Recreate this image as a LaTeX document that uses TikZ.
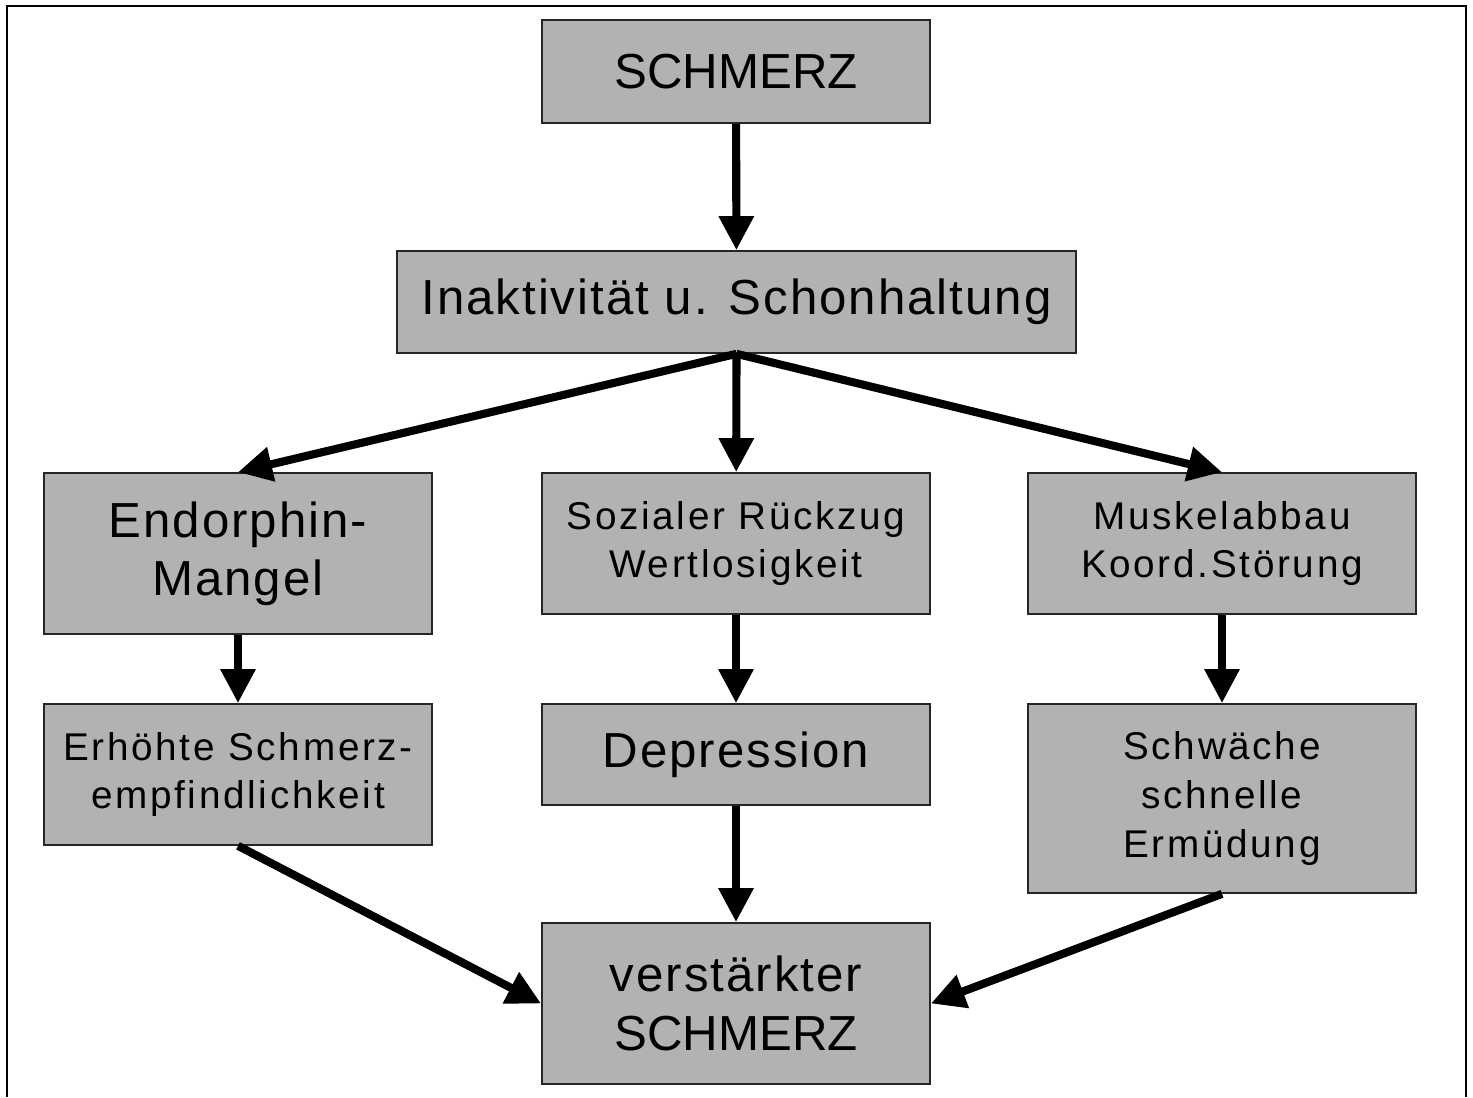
\documentclass[tikz,border=0pt]{standalone}
\usepackage{fontspec}
\setmainfont{Liberation Sans}
\newfontfamily\widefont[LetterSpace=4]{Liberation Sans}
\newfontfamily\widerfont[LetterSpace=7]{Liberation Sans}
\usetikzlibrary{arrows.meta}

\begin{document}
\begin{tikzpicture}[
  x=0.01cm, y=-0.01cm,
  box/.style={rectangle, draw=black!85, line width=0.45pt, fill=black!30,
              inner sep=0pt, align=center, minimum width=3.88cm},
  big/.style={box, font=\widefont\fontsize{14}{16.6}\selectfont},
  small/.style={box, font=\widerfont\fontsize{11}{13.8}\selectfont},
  arr/.style={line width=2.3pt, -{Triangle[length=9.7pt, width=9.5pt]}}
]
\useasboundingbox (0,0) rectangle (1473,1097);
\draw[black, line width=0.6pt] (7,1097) -- (7,6) -- (1466,6) -- (1466,1097);

% top
\node[box, font=\fontsize{14}{16.6}\selectfont, minimum height=1.03cm] (pain) at (736,71.5) {SCHMERZ};
\node[big, minimum width=6.79cm, minimum height=1.02cm] (inact) at (736.5,302) {Inaktivität u. Schonhaltung};

% three columns
\node[big, minimum height=1.61cm]   (endo)   at (238,553.5)  {Endorphin-\\Mangel};
\node[small, minimum height=1.41cm] (social) at (736,543.5)  {Sozialer Rückzug\\Wertlosigkeit};
\node[small, minimum height=1.41cm] (muscle) at (1222,543.5) {Muskelabbau\\Koord.Störung};

\node[small, minimum height=1.41cm] (sens)   at (238,774.5)  {Erhöhte Schmerz-\\empfindlichkeit};
\node[big, minimum height=1.01cm]   (depr)   at (736,754.5)  {Depression};
\node[small, minimum height=1.89cm] (weak)   at (1222,798.5) {Schwäche\\schnelle\\Ermüdung};

% bottom
\node[big, minimum height=1.61cm] (more) at (736,1003.5) {verstärkter\\\rmfamily SCHMERZ};

\draw[arr] (pain) -- (inact);
\draw[arr] (inact.south) -- (endo.north);
\draw[arr] (inact.south) -- (social);
\draw[arr] (inact.south) -- (muscle.north);

\draw[arr] (endo) -- (sens);
\draw[arr] (social) -- (depr);
\draw[arr] (muscle) -- (weak);

\draw[arr] (sens.south) -- (more.west);
\draw[arr] (depr) -- (more);
\draw[arr] (weak.south) -- (more.east);
\end{tikzpicture}
\end{document}
